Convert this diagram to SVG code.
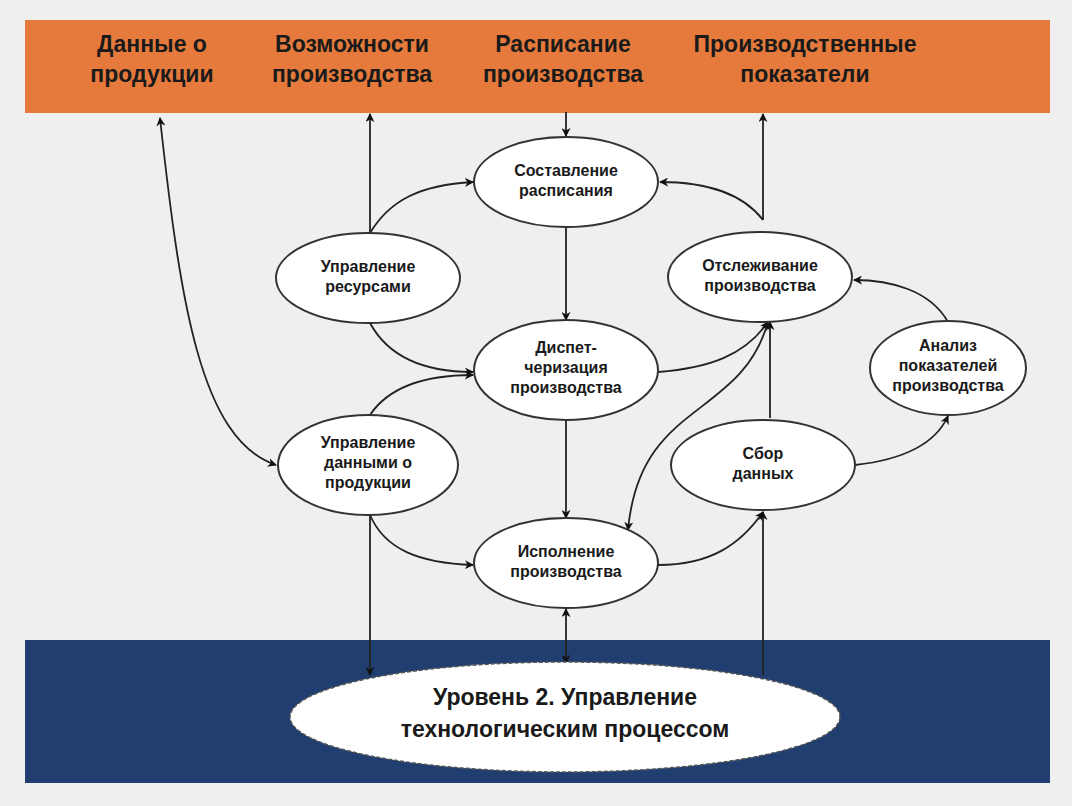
<svg xmlns="http://www.w3.org/2000/svg" width="1072" height="806" viewBox="0 0 1072 806">
<defs>
<marker id="a" viewBox="0 0 10 10" refX="9" refY="5" markerWidth="9" markerHeight="9" orient="auto-start-reverse" markerUnits="userSpaceOnUse"><path d="M0,0L10,5L0,10L3,5z" fill="#111"/></marker>
<style>
.n ellipse{fill:#fff;stroke:#333;stroke-width:2}
.n text{font-family:"Liberation Sans",Arial,sans-serif;font-weight:bold;font-size:16px;fill:#1a1a1a;text-anchor:middle}
.h{font-family:"Liberation Sans",Arial,sans-serif;font-weight:bold;font-size:23px;fill:#1a1a1a;text-anchor:middle}
#c path{fill:none;stroke:#222;stroke-width:1.8;marker-end:url(#a)}
#c .d{marker-start:url(#a)}
</style>
</defs>
<rect width="1072" height="806" fill="#efefef"/>
<rect x="25" y="20" width="1025" height="93" fill="#e57a3c"/>
<rect x="25" y="640" width="1025" height="143" fill="#203f70"/>
<g id="top">
<text class="h" x="152" y="52">Данные о</text><text class="h" x="152" y="82">продукции</text>
<text class="h" x="352" y="52">Возможности</text><text class="h" x="352" y="82">производства</text>
<text class="h" x="563" y="52">Расписание</text><text class="h" x="563" y="82">производства</text>
<text class="h" x="805" y="52">Производственные</text><text class="h" x="805" y="82">показатели</text>
</g>
<g id="c">
<path class="d" d="M160,118 C180,300 200,440 276,465"/>
<path d="M370,233 L370,114"/>
<path d="M370,233 C390,200 420,185 473,182"/>
<path d="M566,112 L566,136"/>
<path d="M566,227 L566,320"/>
<path d="M763,220 C740,190 700,182 660,182"/>
<path d="M763,220 L763,114"/>
<path d="M370,323 C390,360 430,372 473,372"/>
<path d="M370,415 C390,385 430,375 473,375"/>
<path d="M658,372 C710,368 745,355 768,322"/>
<path class="d" d="M768,322 C740,420 640,400 628,530"/>
<path d="M770,418 L770,322"/>
<path d="M855,465 C900,460 935,445 948,416"/>
<path d="M948,322 C930,290 890,280 854,280"/>
<path d="M566,420 L566,518"/>
<path d="M370,515 C385,550 420,563 473,565"/>
<path d="M370,515 L370,675"/>
<path class="d" d="M566,609 L566,663"/>
<path d="M658,565 C710,565 740,545 763,512"/>
<path d="M763,675 L763,512"/>
</g>
<g id="n1" class="n"><ellipse cx="566" cy="182" rx="92" ry="45"/><text x="566" y="176">Составление</text><text x="566" y="196">расписания</text></g>
<g id="n2" class="n"><ellipse cx="368" cy="278" rx="92" ry="45"/><text x="368" y="272">Управление</text><text x="368" y="292">ресурсами</text></g>
<g id="n3" class="n"><ellipse cx="760" cy="277" rx="92" ry="45"/><text x="760" y="271">Отслеживание</text><text x="760" y="291">производства</text></g>
<g id="n4" class="n"><ellipse cx="566" cy="370" rx="92" ry="50"/><text x="566" y="353">Диспет-</text><text x="566" y="373">черизация</text><text x="566" y="393">производства</text></g>
<g id="n5" class="n"><ellipse cx="948" cy="368" rx="78" ry="47"/><text x="948" y="351">Анализ</text><text x="948" y="371">показателей</text><text x="948" y="391">производства</text></g>
<g id="n6" class="n"><ellipse cx="368" cy="465" rx="90" ry="50"/><text x="368" y="448">Управление</text><text x="368" y="468">данными о</text><text x="368" y="488">продукции</text></g>
<g id="n7" class="n"><ellipse cx="763" cy="465" rx="92" ry="45"/><text x="763" y="459">Сбор</text><text x="763" y="479">данных</text></g>
<g id="n8" class="n"><ellipse cx="566" cy="563" rx="92" ry="45"/><text x="566" y="557">Исполнение</text><text x="566" y="577">производства</text></g>
<g id="n9"><ellipse cx="565" cy="717" rx="275" ry="55" fill="#fff" stroke="#555" stroke-width="1.5" stroke-dasharray="4 2"/><text class="h" x="565" y="705">Уровень 2. Управление</text><text class="h" x="565" y="737">технологическим процессом</text></g>
</svg>
